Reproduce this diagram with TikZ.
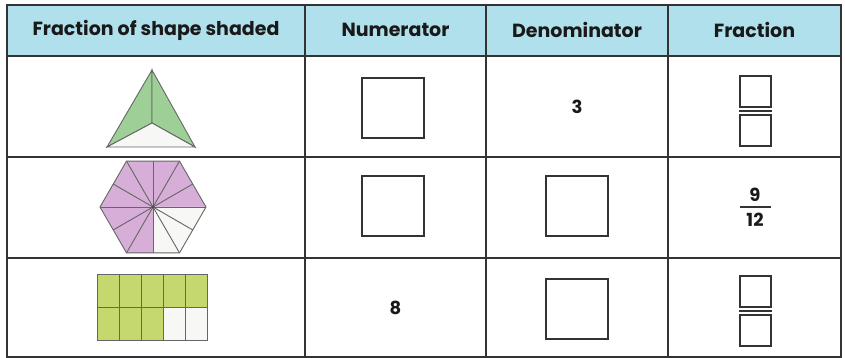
\documentclass[tikz,border=0pt]{standalone}
\usepackage{fontspec}
\setmainfont{Poppins}
\usepackage{tikz}
\usetikzlibrary{positioning, calc}
\definecolor{headblue}{RGB}{176,224,236}
\definecolor{trigreen}{RGB}{157,207,151}
\definecolor{hexpurple}{RGB}{214,174,216}
\definecolor{gridgreen}{RGB}{197,216,109}
\definecolor{offwhite}{RGB}{247,247,245}
\definecolor{linegray}{RGB}{51,51,51}
\tikzset{
  head/.style={font=\bfseries\fontsize{19}{22}\selectfont, text=black!90}, % header text
  num/.style={font=\bfseries\fontsize{18}{21}\selectfont, text=black!90},
  ansbox/.style={draw=linegray, line width=2pt, rectangle, minimum width=62pt, minimum height=60pt, inner sep=0pt},
  fracbox/.style={draw=linegray, line width=2pt, rectangle, minimum size=31pt, inner sep=0pt},
  rule/.style={draw=linegray, line width=1.8pt},
  shapeline/.style={draw=black!60, line width=0.9pt}
}

\begin{document}
\begin{tikzpicture}[x=1pt, y=1pt]
    \useasboundingbox (0,0) rectangle (845,358);

    % Table
    \fill[headblue] (7,302) rectangle (841,353);
    \draw[rule] (7,1) rectangle (841,353);
    \draw[rule] (7,302) -- (841,302);
    \draw[rule] (7,201) -- (841,201);
    \draw[rule] (7,100) -- (841,100);
    \foreach \x in {305,486,668}
      \draw[rule] (\x,1) -- (\x,353);

    % Header
    \node[head] (hShape) at (156,328) {Fraction of shape shaded};
    \node[head] (hNum) at (395.5,328) {Numerator};
    \node[head] (hDen) at (577,328) {Denominator};
    \node[head] (hFrac) at (754.5,328) {Fraction};

    % Row 1: triangle
    \coordinate (tApex) at (152,288);
    \coordinate (tLeft) at (107,211);
    \coordinate (tRight) at (195,211);
    \coordinate (tMid) at (152,235);
    \filldraw[shapeline, fill=trigreen] (tApex) -- (tLeft) -- (tMid) -- cycle;
    \filldraw[shapeline, fill=trigreen] (tApex) -- (tMid) -- (tRight) -- cycle;
    \filldraw[shapeline, fill=offwhite] (tMid) -- (tLeft) -- (tRight) -- cycle;

    \node[ansbox] (numA) at (393,250) {};
    \node[num] (denA) at (577,251.5) {3};
    \node[fracbox] (fracAtop) at (755.5,266.5) {};
    \node[fracbox, below=6pt of fracAtop] (fracAbot) {};
    \draw[linegray, line width=2pt] ([yshift=-3pt]fracAtop.south west) -- ([yshift=-3pt]fracAtop.south east);

    % Row 2: hexagon
    \coordinate (hC) at (153,151);
    \fill[hexpurple] ($(hC)+(0:53)$) \foreach \a in {60,120,...,300} { -- ($(hC)+(\a:53)$) } -- cycle;
    \fill[offwhite] (hC) -- ($(hC)+(0:53)$) -- ($(hC)+(-30:45.9)$) -- ($(hC)+(-60:53)$) -- ($(hC)+(-90:45.9)$) -- cycle;
    \foreach \a in {0,60,...,300}
      \draw[shapeline] (hC) -- ($(hC)+(\a:53)$);
    \foreach \a in {30,90,...,330}
      \draw[shapeline] (hC) -- ($(hC)+(\a:45.9)$);
    \draw[shapeline] ($(hC)+(0:53)$) \foreach \a in {60,120,...,300} { -- ($(hC)+(\a:53)$) } -- cycle;
    \fill[black!70] (hC) circle (1.6pt);

    \node[ansbox] (numB) at (393,152) {};
    \node[ansbox] (denB) at (577,152) {};
    \node[num] (fracBtop) at (755,163) {9};
    \node[num] (fracBbot) at (755,138) {12};
    \draw[linegray, line width=1.8pt] (740,151) -- (771,151);

    % Row 3: grid
    \fill[gridgreen] (97,18) rectangle (207,84);
    \fill[offwhite] (163,18) rectangle (207,51);
    \draw[shapeline] (97,51) -- (207,51);
    \foreach \x in {119,141,163,185}
      \draw[shapeline] (\x,18) -- (\x,84);
    \draw[shapeline] (97,18) rectangle (207,84);

    \node[num] (numC) at (395.5,50.5) {8};
    \node[ansbox] (denC) at (577,48.5) {};
    \node[fracbox] (fracCtop) at (755.5,66) {};
    \node[fracbox, below=6pt of fracCtop] (fracCbot) {};
    \draw[linegray, line width=2pt] ([yshift=-3pt]fracCtop.south west) -- ([yshift=-3pt]fracCtop.south east);

\end{tikzpicture}
\end{document}
